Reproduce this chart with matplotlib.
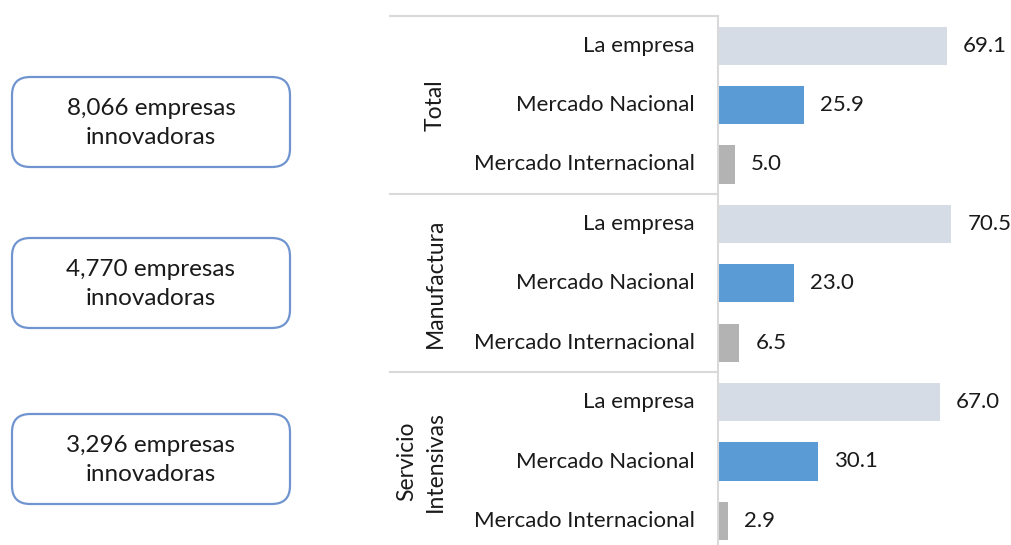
import matplotlib.pyplot as plt
from matplotlib.patches import FancyBboxPatch

plt.rcParams['font.family'] = ['Lato', 'DejaVu Sans']

# datos: porcentaje de empresas segun el alcance de la innovacion
grupos = ['Total', 'Manufactura', 'Servicio\nIntensivas']
categorias = ['La empresa', 'Mercado Nacional', 'Mercado Internacional']
total = [69.1, 25.9, 5.0]
manufactura = [70.5, 23.0, 6.5]
servicios = [67.0, 30.1, 2.9]
cajas = ['8,066 empresas\ninnovadoras', '4,770 empresas\ninnovadoras',
         '3,296 empresas\ninnovadoras']

colores = ['#D6DCE5', '#5B9BD5', '#B3B3B3']
gris = '#D9D9D9'
tinta = '#1A1A1A'
fs = 16

W, H = 1011, 545
fig = plt.figure(figsize=(W / 100, H / 100), dpi=100)

# eje de barras (de 718 a 1011 px, filas de ~59.4 px desde y=16)
x0, top, fila = 718, 16, 59.4
bottom = top + 9 * fila
ax = fig.add_axes([x0 / W, 1 - bottom / H, (W - x0) / W, (bottom - top) / H])

valores = [total, manufactura, servicios]
n = 0
for g, vals in enumerate(valores):
    for i, v in enumerate(vals):
        ax.barh(n, v, height=0.64, color=colores[i])
        ax.text(v + 4.9, n, f'{v:.1f}', va='center', ha='left', fontsize=fs,
                color=tinta)
        n += 1

ax.set_xlim(0, (W - x0 - 2) / 3.285)
ax.set_ylim(8.5, -0.5)
ax.set_xticks([])
ax.set_yticks([])
for s in ['top', 'right', 'bottom']:
    ax.spines[s].set_visible(False)
ax.spines['left'].set_color(gris)
ax.spines['left'].set_linewidth(1.5)

# etiquetas de categorias y grupos (coordenadas de pixeles)
def px(x, y):
    return x / W, 1 - y / H

n = 0
for g, nombre in enumerate(grupos):
    y_sep = top + g * 3 * fila
    fig.add_artist(plt.Line2D([390 / W, x0 / W], [1 - y_sep / H] * 2,
                              color=gris, lw=1.5))
    for i, c in enumerate(categorias):
        yc = top + (n + 0.5) * fila
        fig.text(*px(695, yc), c, ha='right', va='center', fontsize=fs,
                 color=tinta)
        n += 1
    yc = top + (g * 3 + 1.5) * fila
    xc = 435 if '\n' not in nombre else 421
    fig.text(*px(xc, yc), nombre, rotation=90, ha='center', va='center',
             fontsize=fs + 0.5, color=tinta, linespacing=1.45,
             multialignment='center')

# cajas redondeadas de la izquierda
ys = [77, 238, 414]
for y, txt in zip(ys, cajas):
    caja = FancyBboxPatch((12 / W, 1 - (y + 90) / H), 278 / W, 90 / H,
                          boxstyle='round,pad=0,rounding_size=0.018',
                          transform=fig.transFigure, facecolor='white',
                          edgecolor='#7094CF', lw=1.6,
                          mutation_aspect=W / H)
    fig.add_artist(caja)
    fig.text(*px(151, y + 46), txt, ha='center', va='center', fontsize=17.5,
             color=tinta, linespacing=1.5)

fig.savefig('out.png', dpi=100)
